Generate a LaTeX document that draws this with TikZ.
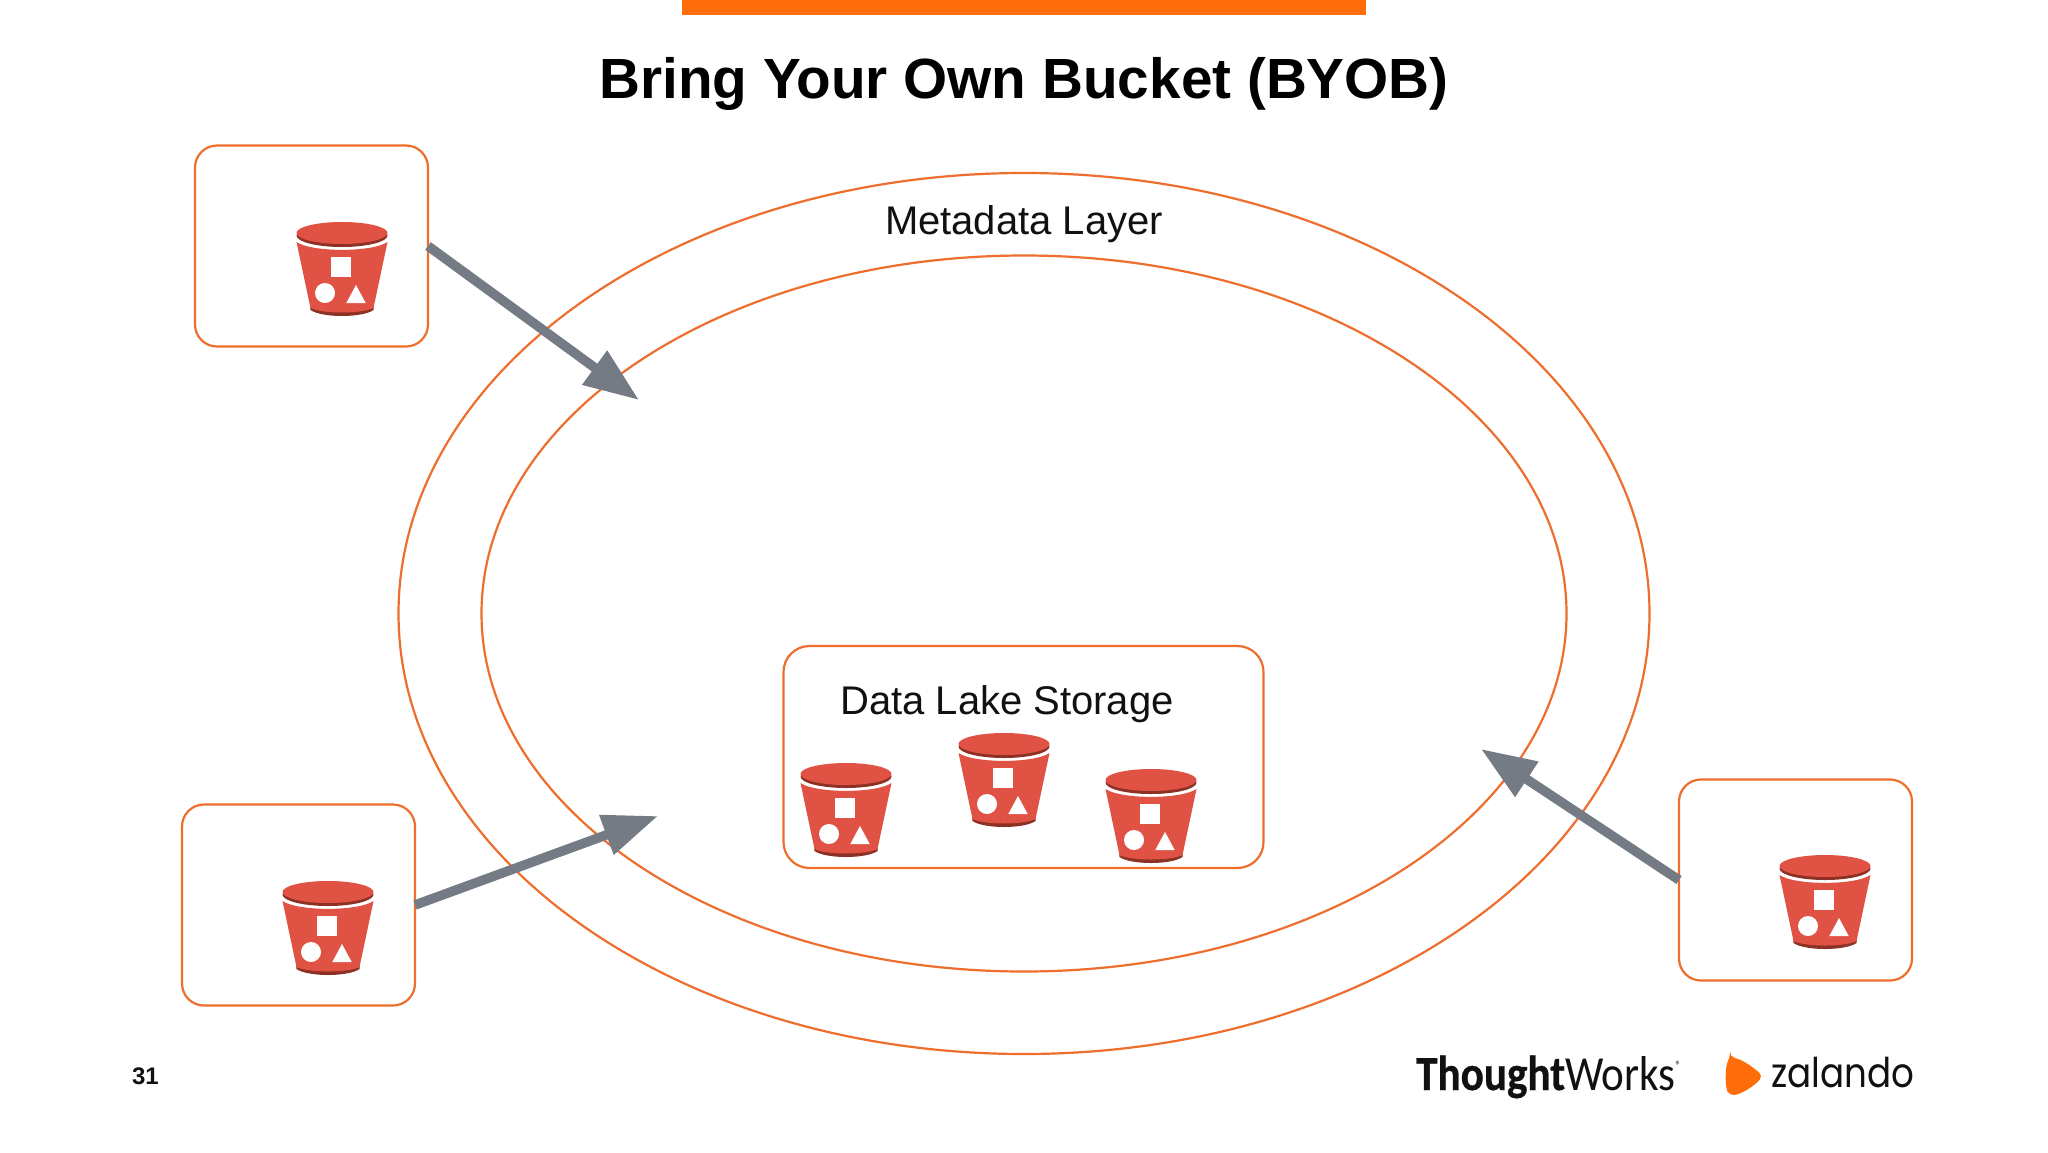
\documentclass[tikz,border=0pt]{standalone}
\usepackage{fontspec}
\setmainfont{Liberation Sans}
\newfontfamily\twfont{Carlito}
\newfontfamily\twbold[UprightFont={* Bold},UprightFeatures={FakeBold=0.6}]{Carlito}
\newfontfamily\zalfont{Poppins}
\usetikzlibrary{arrows.meta,shapes.geometric}
\definecolor{barorange}{HTML}{FF6D0A}
\definecolor{lineorange}{HTML}{EE6E2E}
\definecolor{arrowgrey}{HTML}{757B85}
\definecolor{bucketred}{HTML}{E05243}
\definecolor{bucketdark}{HTML}{8C3123}
\definecolor{inktext}{HTML}{111111}
\tikzset{
  ring/.style={draw=lineorange,line width=2.2pt,ellipse,inner sep=0pt,outer sep=0pt},
  roundbox/.style={draw=lineorange,line width=2.2pt,rectangle,rounded corners=22pt,inner sep=0pt,outer sep=0pt,minimum width=233pt,minimum height=201pt},
  flow/.style={draw=arrowgrey,line width=9.5pt,-{Triangle[length=55pt,width=40pt,fill=arrowgrey]}},
  label/.style={inner sep=0pt,text=inktext,font=\fontsize{40pt}{40pt}\selectfont},
  bucket/.pic={
    \fill[bucketdark] (-32,80) -- (32,80) -- (31.5,88) .. controls (20,96) and (-20,96) .. (-31.5,88) -- cycle;
    \fill[bucketred] (-45.5,20) .. controls (-30,30.5) and (30,30.5) .. (45.5,20) -- (31.5,86) .. controls (20,92) and (-20,92) .. (-31.5,86) -- cycle;
    \fill[bucketdark] (0,13.5) ellipse [x radius=45.5,y radius=11.5];
    \fill[bucketred] (0,11) ellipse [x radius=45.5,y radius=11];
    \fill[white] (-11,34.5) rectangle (9,54.5);
    \fill[white] (-17,71) circle [radius=10];
    \fill[white] (14,63) -- (23.7,81) -- (4.3,81) -- cycle;
  }
}
\begin{document}
\begin{tikzpicture}[x=1pt,y=-1pt]
\useasboundingbox[fill=white] (0,0) rectangle (2048,1152);
\fill[barorange] (682,0) rectangle (1366,15);
\node[inner sep=0pt,text=black,font=\fontsize{56.7pt}{57pt}\selectfont\bfseries] (title) at (1024,84) {Bring Your Own Bucket (BYOB)};
\node[ring,minimum width=1251pt,minimum height=881pt] (outer) at (1024,613.5) {};
\node[ring,minimum width=1085pt,minimum height=716pt] (inner) at (1024,613.5) {};
\node[label] (meta) at (1024,224.5) {Metadata Layer};
\node[roundbox,minimum width=480pt,minimum height=222pt,rounded corners=26pt] (lake) at (1023.5,757) {};
\node[label] (laketext) at (1007,704.5) {Data Lake Storage};
\node[roundbox] (boxa) at (311.5,246) {};
\node[roundbox] (boxb) at (298.5,905) {};
\node[roundbox] (boxc) at (1795.5,880) {};
\pic at (342,222) {bucket};
\pic at (328,881) {bucket};
\pic at (1825,855) {bucket};
\pic at (846,763) {bucket};
\pic at (1004,733) {bucket};
\pic at (1151,769) {bucket};
\coordinate (tipa) at (639,400);
\coordinate (tipb) at (658,816);
\coordinate (tipc) at (1481,749);
\draw[flow] (boxa.east) -- (tipa);
\draw[flow] (boxb.east) -- (tipb);
\draw[flow] (boxc.west) -- (tipc);
\node[inner sep=0pt,text=inktext,font=\fontsize{24pt}{24pt}\selectfont\bfseries] (page) at (145.5,1076.5) {31};
\node[anchor=base west,inner sep=0pt,text=inktext,font=\fontsize{49pt}{49pt}\twfont,xscale=0.88] (tw) at (1416,1090) {{\twbold Thought}Works\raisebox{0.42em}{\fontsize{12pt}{12pt}\selectfont ®}};
\fill[barorange,rounded corners=5pt] (1730,1057) .. controls (1744,1060) and (1755,1069) .. (1763,1076) .. controls (1755,1085) and (1744,1093) .. (1730,1096) .. controls (1725,1087) and (1725,1067) .. cycle;
\node[anchor=base west,inner sep=0pt,text=inktext,font=\fontsize{41pt}{41pt}\zalfont,xscale=0.87] (zal) at (1771,1087) {zalando};
\end{tikzpicture}
\end{document}
